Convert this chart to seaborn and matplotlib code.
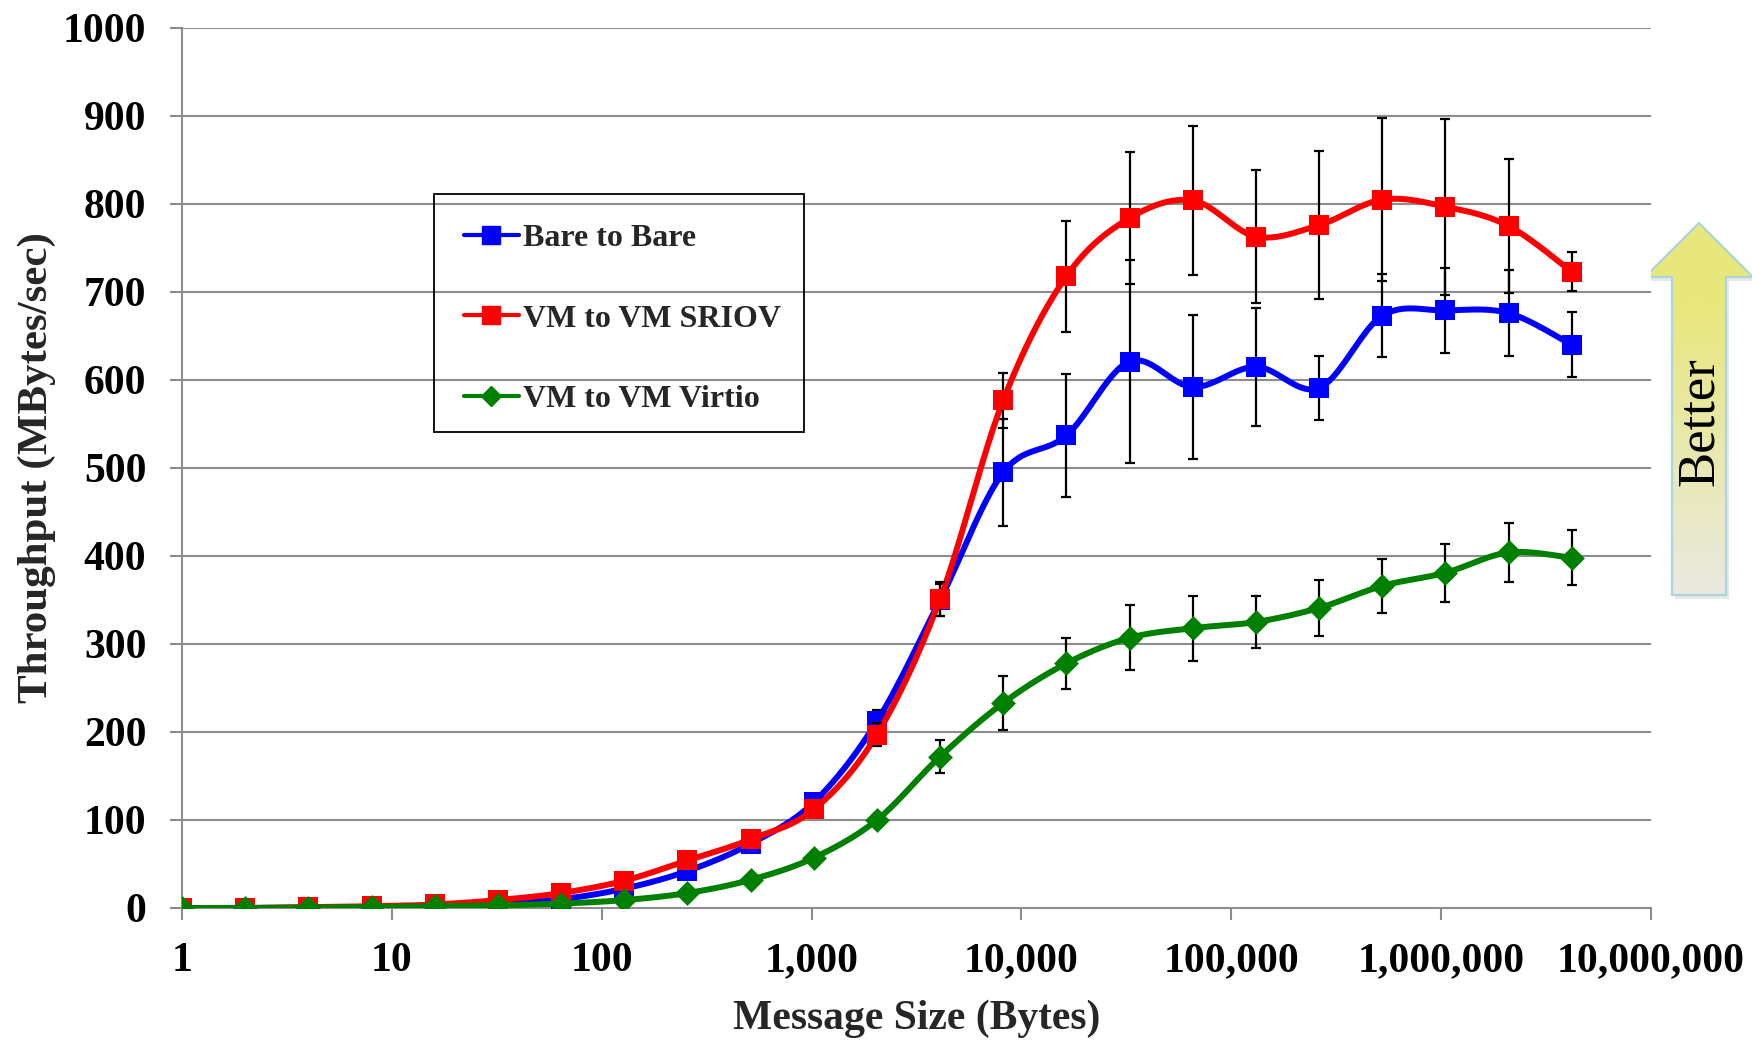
import numpy as np
import pandas as pd
import matplotlib
matplotlib.use("Agg")
import matplotlib.pyplot as plt
import seaborn as sns
from matplotlib.lines import Line2D
from matplotlib.patches import Polygon, Rectangle
from matplotlib.ticker import FuncFormatter, FixedLocator, NullLocator

# ---------------- data ----------------
msg_size = [2 ** k for k in range(23)]  # 1 .. 4,194,304 bytes

bare = [0, 0, 0.5, 1, 2.5, 5, 10, 22, 42, 73, 120, 212, 350, 495, 537, 621,
        592, 615, 591, 673, 679, 676, 640]
bare_err = [0, 0, 0, 0, 0, 0, 1, 2, 3, 3, 5, 13, 18, 61, 70, 115,
            82, 67, 36, 47, 48, 49, 37]

sriov = [0, 0, 1, 2, 4, 9, 17, 31, 54, 78, 112, 197, 351, 577, 718, 784,
         804, 763, 776, 805, 797, 775, 723]
sriov_err = [0, 0, 0, 0, 0, 1, 1, 2, 3, 3, 5, 13, 19, 31, 63, 75,
             85, 76, 84, 93, 100, 76, 22]

virtio = [0, 0, 0.5, 1, 2, 3, 5, 9, 17, 32, 57, 100, 172, 233, 278, 307,
          318, 325, 341, 366, 381, 404, 398]
virtio_err = [0, 0, 0, 0, 0, 0, 0, 1, 1, 2, 3, 4, 19, 31, 29, 37,
              37, 29, 32, 31, 33, 34, 31]

series_names = ["Bare to Bare", "VM to VM SRIOV", "VM to VM Virtio"]
x_tick_values = [1, 10, 100, 1000, 10000, 100000, 1000000, 10000000]
y_tick_values = list(range(0, 1001, 100))

# ---------------- style ----------------
sns.set_theme(style="white")
plt.rcParams["font.family"] = ["Liberation Serif", "DejaVu Serif"]
plt.rcParams["font.weight"] = "bold"

W, H = 1752, 1040
fig = plt.figure(figsize=(W / 100, H / 100), dpi=100)
L, R, T, B = 182, 1651, 28, 908
ax = fig.add_axes([L / W, 1 - B / H, (R - L) / W, (B - T) / H])

GRID = "#8c8c8c"


def smooth(xs, ys, n=24):
    """Excel-style smoothed line (uniform Catmull-Rom) in log2(x) space."""
    k = np.log2(np.asarray(xs, float))
    y = np.asarray(ys, float)
    P = np.column_stack([k, y])
    m = len(P)
    out = []
    t = np.linspace(0, 1, n, endpoint=False)[:, None]
    for i in range(m - 1):
        p0 = P[i - 1] if i > 0 else P[i]
        p1 = P[i]
        p2 = P[i + 1]
        p3 = P[i + 2] if i + 2 < m else P[i + 1]
        c1 = p1 + (p2 - p0) / 6.0
        c2 = p2 - (p3 - p1) / 6.0
        seg = ((1 - t) ** 3) * p1 + 3 * ((1 - t) ** 2) * t * c1 + 3 * (1 - t) * t ** 2 * c2 + t ** 3 * p2
        out.append(seg)
    out.append(P[-1][None, :])
    out = np.vstack(out)
    return 2 ** out[:, 0], out[:, 1]


specs = [
    (bare, bare_err, "#0000ff", "s", 215),
    (sriov, sriov_err, "#ff0000", "s", 215),
    (virtio, virtio_err, "#008000", "D", 160),
]

for zi, (vals, errs, col, mk, ms) in enumerate(specs):
    sx, sy = smooth(msg_size, vals)
    ax.plot(sx, sy, color=col, lw=4.3, zorder=3 + zi * 0.1, solid_capstyle="round")
    ax.errorbar(msg_size, vals, yerr=errs, fmt="none", ecolor="black",
                elinewidth=1.6, capsize=3.4, capthick=1.6, zorder=3.05 + zi * 0.1)
    sns.scatterplot(x=msg_size, y=vals, marker=mk, s=ms, color=col,
                    edgecolor=col, linewidth=0, ax=ax, zorder=3.08 + zi * 0.1,
                    legend=False)

# axes
ax.set_xscale("log")
ax.set_xlim(1, 1e7)
ax.set_ylim(0, 1000)
ax.xaxis.set_major_locator(FixedLocator(x_tick_values))
ax.xaxis.set_minor_locator(NullLocator())
ax.xaxis.set_major_formatter(FuncFormatter(lambda v, p: f"{v:,.0f}"))
ax.set_yticks(y_tick_values)
ax.yaxis.set_major_formatter(FuncFormatter(lambda v, p: f"{v:.0f}"))

for yv in y_tick_values[1:]:
    ax.axhline(yv, color=GRID, lw=1.5, zorder=1)

for s in ["top", "right"]:
    ax.spines[s].set_visible(False)
for s in ["left", "bottom"]:
    ax.spines[s].set_color(GRID)
    ax.spines[s].set_linewidth(1.5)

ax.tick_params(axis="both", which="major", direction="out", length=8.6,
               width=1.5, color=GRID, labelsize=30, labelcolor="black")
ax.tick_params(axis="y", pad=17)
ax.tick_params(axis="x", pad=16)
ax.tick_params(left=True, bottom=True)
for lab in ax.get_xticklabels() + ax.get_yticklabels():
    lab.set_fontweight("bold")

ax.set_xlabel("Message Size (Bytes)", fontsize=30, fontweight="bold", labelpad=14)
ax.set_ylabel("Throughput (MBytes/sec)", fontsize=31, fontweight="bold", labelpad=5)
ax.set_facecolor("white")

# legend
handles = [
    Line2D([0], [0], color="#0000ff", lw=3, marker="s", markersize=13),
    Line2D([0], [0], color="#ff0000", lw=3, marker="s", markersize=13),
    Line2D([0], [0], color="#008000", lw=3, marker="D", markersize=10),
]
leg = fig.legend(handles, series_names, loc="upper left",
                 bbox_to_anchor=(464 / W, 1 - 223.5 / H), frameon=False,
                 prop={"family": "Liberation Serif", "weight": "bold", "size": 23},
                 handlelength=1.72, handletextpad=0.12, labelspacing=1.61,
                 borderpad=0, borderaxespad=0)
fig.patches.append(Rectangle((434 / W, 1 - 432 / H), (804 - 434) / W, (432 - 194) / H,
                             transform=fig.transFigure, fill=False,
                             edgecolor="black", lw=1.3, zorder=5))

# "Better" arrow (decoration outside the plot area)
aax = fig.add_axes([0, 0, 1, 1], zorder=-1)
aax.set_xlim(0, W)
aax.set_ylim(H, 0)
aax.axis("off")
arrow_pts = [(1699, 223), (1753, 277), (1726, 277), (1726, 595),
             (1672, 595), (1672, 277), (1645, 277)]
shadow = Polygon([(x + 3, y + 4) for x, y in arrow_pts], closed=True,
                 facecolor="#d8d8d8", edgecolor="none", alpha=0.6)
aax.add_patch(shadow)
poly = Polygon(arrow_pts, closed=True, facecolor="none",
               edgecolor="#a9d6de", lw=1.6, zorder=3)
aax.add_patch(poly)
top_c = np.array([232, 231, 122]) / 255
bot_c = np.array([234, 234, 226]) / 255
tt = np.linspace(0, 1, 256)
w = np.clip((tt - 0.2) / 0.8, 0, 1)[:, None]
grad = (1 - w) * top_c + w * bot_c
img = aax.imshow(grad[:, None, :], extent=(1645, 1753, 595, 223),
                 aspect="auto", zorder=2, interpolation="bilinear")
clip = Polygon(arrow_pts, closed=True, transform=aax.transData)
img.set_clip_path(clip)
aax.text(1700, 422, "Better", rotation=90, ha="center", va="center",
         fontsize=38, fontweight="normal", family="Liberation Serif",
         color="black", zorder=4)

fig.savefig("out.png", dpi=100, facecolor="white")
